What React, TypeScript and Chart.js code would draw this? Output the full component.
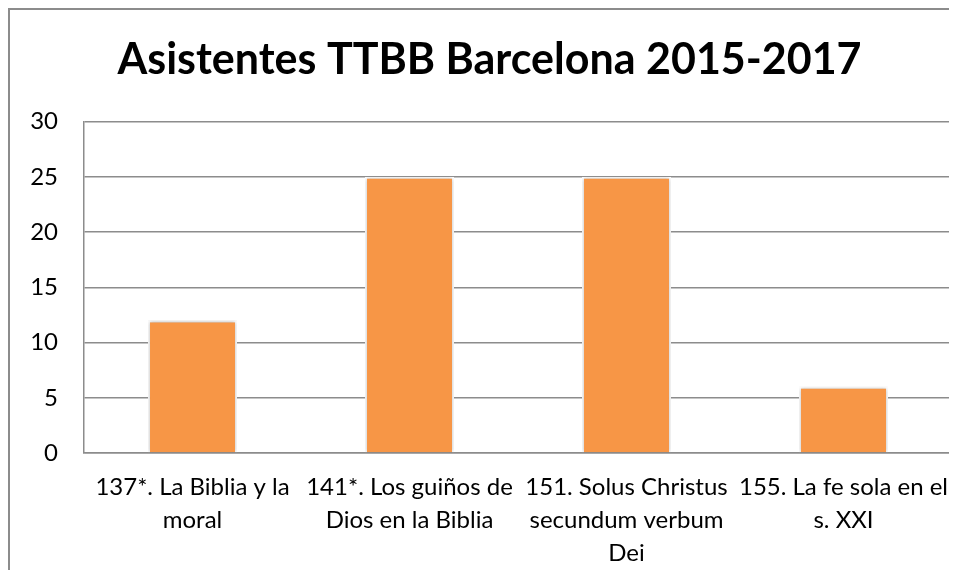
import React, { useEffect, useRef } from "react";
import { Chart, registerables } from "chart.js";

Chart.register(...registerables);

const TITLE = "Asistentes TTBB Barcelona 2015-2017";
const CATEGORIES: string[][] = [
  ["137*. La Biblia y la", "moral"],
  ["141*. Los guiños de", "Dios en la Biblia"],
  ["151. Solus Christus", "secundum verbum", "Dei"],
  ["155. La fe sola en el", "s. XXI"],
];
const VALUES = [12, 25, 25, 6];
const Y_MIN = 0;
const Y_MAX = 30;
const Y_STEP = 5;

const FONT = "Lato, 'Open Sans', sans-serif";

const shadowPlugin = {
  id: "barShadow",
  beforeDatasetsDraw(chart: any) {
    const ctx = chart.ctx;
    ctx.save();
    ctx.shadowColor = "rgba(0,0,0,0.28)";
    ctx.shadowBlur = 4;
    ctx.shadowOffsetX = 0;
    ctx.shadowOffsetY = 0;
  },
  afterDatasetsDraw(chart: any) {
    chart.ctx.restore();
  },
};

export default function App() {
  const ref = useRef<HTMLCanvasElement | null>(null);

  useEffect(() => {
    if (!ref.current) return;
    const chart = new Chart(ref.current, {
      type: "bar",
      data: {
        labels: CATEGORIES,
        datasets: [
          {
            data: VALUES,
            backgroundColor: "#F79646",
            borderColor: "#ffffff",
            borderWidth: 2,
            barPercentage: 0.41,
            categoryPercentage: 1,
          },
        ],
      },
      plugins: [shadowPlugin],
      options: {
        responsive: false,
        animation: false,
        layout: { padding: { left: 17, right: 17, top: 0, bottom: 0 } },
        plugins: {
          legend: { display: false },
          tooltip: { enabled: false },
          title: {
            display: true,
            text: TITLE,
            color: "#000000",
            font: { family: FONT, size: 43, weight: "bold", lineHeight: 1.2 },
            padding: { top: 24, bottom: 36 },
          },
        },
        scales: {
          x: {
            grid: { display: false, drawTicks: false },
            border: { display: true, color: "#8c8c8c", width: 1.5 },
            ticks: {
              color: "#000000",
              font: { family: FONT, size: 24, lineHeight: 1.375 },
              padding: 18,
              maxRotation: 0,
              autoSkip: false,
            },
            afterFit(scale: any) {
              scale.height = 117;
            },
          },
          y: {
            min: Y_MIN,
            max: Y_MAX,
            grid: { color: "#8c8c8c", lineWidth: 1.5, drawTicks: false },
            border: { display: true, color: "#8c8c8c", width: 1.5 },
            ticks: {
              stepSize: Y_STEP,
              color: "#000000",
              font: { family: FONT, size: 24 },
              padding: 26,
            },
            afterFit(scale: any) {
              scale.width = 57;
            },
          },
        },
      },
    });
    return () => chart.destroy();
  }, []);

  return (
    <div
      style={{
        width: 949,
        height: 562,
        boxSizing: "border-box",
        borderTop: "2px solid #8c8c8c",
        borderLeft: "2px solid #8c8c8c",
        overflow: "hidden",
        background: "#ffffff",
      }}
    >
      <canvas ref={ref} width={959} height={560} style={{ display: "block" }} />
    </div>
  );
}
